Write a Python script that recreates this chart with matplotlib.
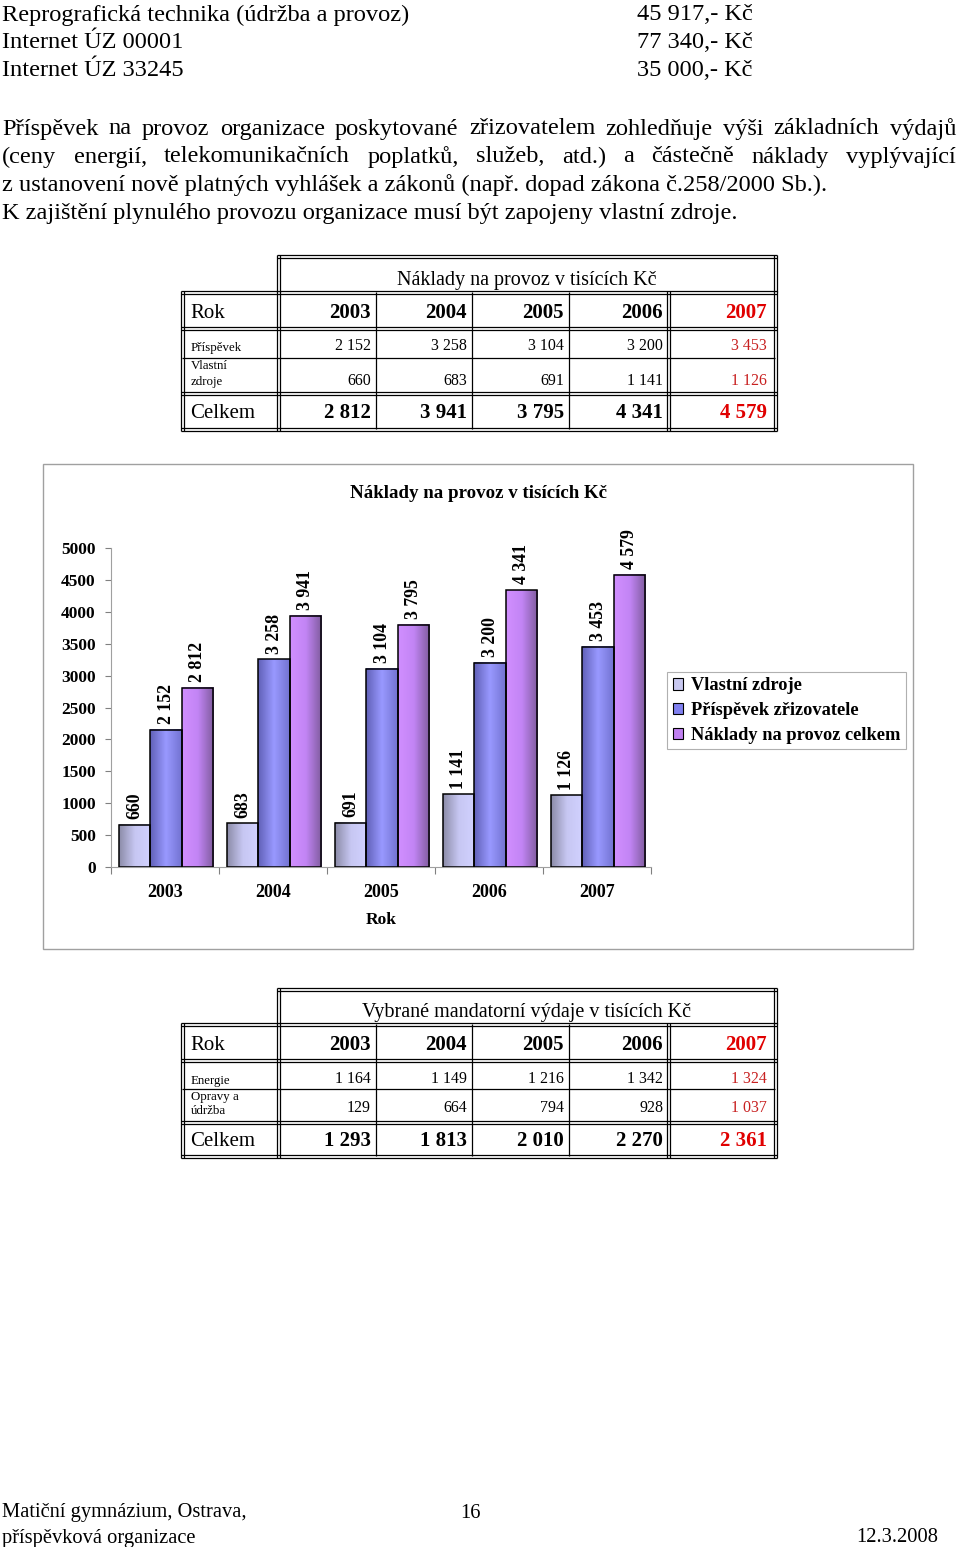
import numpy as np
import matplotlib
matplotlib.use("Agg")
import matplotlib.pyplot as plt
from matplotlib.patches import Patch, Rectangle

plt.rcParams['font.family'] = ['Liberation Serif', 'DejaVu Serif']

# ---------------------------------------------------------------------------
# data
# ---------------------------------------------------------------------------
ITEMS = ["Reprografická technika (údržba a provoz)", "Internet ÚZ 00001", "Internet ÚZ 33245"]
AMOUNTS = ["45 917,- Kč", "77 340,- Kč", "35 000,- Kč"]

PARAGRAPH = [
    "Příspěvek na provoz organizace poskytované zřizovatelem zohledňuje výši základních výdajů",
    "(ceny energií, telekomunikačních poplatků, služeb, atd.) a částečně náklady vyplývající",
    "z ustanovení nově platných vyhlášek a zákonů (např. dopad zákona č.258/2000 Sb.).",
    "K zajištění plynulého provozu organizace musí být zapojeny vlastní zdroje.",
]

YEARS = ["2003", "2004", "2005", "2006", "2007"]
PRISPEVEK = [2152, 3258, 3104, 3200, 3453]
VLASTNI = [660, 683, 691, 1141, 1126]
CELKEM = [2812, 3941, 3795, 4341, 4579]

ENERGIE = [1164, 1149, 1216, 1342, 1324]
OPRAVY = [129, 664, 794, 928, 1037]
MAND_CELKEM = [1293, 1813, 2010, 2270, 2361]

SERIES_NAMES = ["Vlastní zdroje", "Příspěvek zřizovatele", "Náklady na provoz celkem"]

# left / middle / right colours of the bar gradients
GRAD = [
    [(0.55, 0.55, 0.66), (0.78, 0.78, 0.95), (0.82, 0.82, 1.00)],
    [(0.38, 0.38, 0.72), (0.60, 0.60, 1.00), (0.45, 0.45, 0.82)],
    [(0.82, 0.56, 1.00), (0.76, 0.52, 0.96), (0.50, 0.36, 0.62)],
]
LEGEND_COLORS = ["#c8c8f0", "#8080f0", "#c080f0"]
RED = "#e00000"


def fmt(v):
    return f"{v:,}".replace(",", " ")


W, H = 960, 1547
fig = plt.figure(figsize=(W / 100, H / 100), dpi=100)
page = fig.add_axes([0, 0, 1, 1], zorder=0)
page.set_xlim(0, W)
page.set_ylim(H, 0)
page.axis("off")
renderer = fig.canvas.get_renderer()

BODY = 17.6

# ---- top lines -------------------------------------------------------------
for i, (item, amount) in enumerate(zip(ITEMS, AMOUNTS)):
    y = 15 + 28 * i
    page.text(2, y, item, fontsize=BODY, va="center")
    page.text(637, y, amount, fontsize=BODY, va="center")


def justify(line, y, x0, x1, size):
    words = line.split()
    texts = [page.text(0, y, w, fontsize=size, va="center") for w in words]
    widths = [t.get_window_extent(renderer).width for t in texts]
    gap = (x1 - x0 - sum(widths)) / (len(words) - 1)
    x = x0
    for t, w in zip(texts, widths):
        t.set_x(x)
        x += w + gap


for i, line in enumerate(PARAGRAPH):
    y = 129 + 28 * i
    if i < 2:
        justify(line, y, 2, 956, BODY)
    else:
        page.text(2, y, line, fontsize=BODY, va="center")


# ---- tables ----------------------------------------------------------------
XL, XA, X1, X2, X3, XB, XR = 182, 278, 376, 472, 569, 668, 775
COL_RIGHT = [371, 467, 564, 663, 767]


def hline(y, x0, x1, double=False):
    for d in ((-1.5, 1.5) if double else (0,)):
        page.plot([x0, x1], [y + d, y + d], color="black", lw=0.9, solid_capstyle="butt")


def vline(x, y0, y1, double=False):
    for d in ((-1.5, 1.5) if double else (0,)):
        page.plot([x + d, x + d], [y0, y1], color="black", lw=0.9, solid_capstyle="butt")


def draw_table(ys, rows_y, title, labels, row1, row2, totals):
    t0, t1, t2, tm, t3, t4 = ys
    ya, yb, la, lb1, lb2 = rows_y
    # title cell
    hline(t0, XA - 1.5, XR + 1.5, True)
    vline(XA, t0 - 1.5, t1, True)
    vline(XR, t0 - 1.5, t1, True)
    page.text((XA + XR) / 2, (t0 + t1) / 2 + 6, title, fontsize=14.5, ha="center", va="center")
    # grid
    for y in (t1, t2, t3, t4):
        hline(y, XL - 1.5, XR + 1.5, True)
    hline(tm, XL, XR)
    for x in (XL, XA, XB, XR):
        vline(x, t1 - 1.5, t4 + 1.5, True)
    for x in (X1, X2, X3):
        vline(x, t1, t4)
    # header row
    yr = (t1 + t2) / 2 + 3.5
    page.text(190, yr, "Rok", fontsize=15, va="center")
    for j, yv in enumerate(YEARS):
        page.text(COL_RIGHT[j], yr, yv, fontsize=15, fontweight="bold", ha="right",
                  va="center", color=RED if j == 4 else "black")
    # data rows
    page.text(191, la, labels[0][0], fontsize=9.3, va="center")
    page.text(191, lb1, labels[1][0], fontsize=9.3, va="center")
    page.text(191, lb2, labels[1][1], fontsize=9.3, va="center")
    for j in range(5):
        c = "#c82020" if j == 4 else "black"
        page.text(COL_RIGHT[j], ya, fmt(row1[j]), fontsize=11.5, ha="right", va="center", color=c)
        page.text(COL_RIGHT[j], yb, fmt(row2[j]), fontsize=11.5, ha="right", va="center", color=c)
    # totals
    yc = (t3 + t4) / 2 + 2
    page.text(190, yc, "Celkem", fontsize=15, va="center")
    for j in range(5):
        page.text(COL_RIGHT[j], yc, fmt(totals[j]), fontsize=15, fontweight="bold", ha="right",
                  va="center", color=RED if j == 4 else "black")


draw_table((256, 292, 328, 358, 393, 429), (346, 381, 348, 366, 382),
           "Náklady na provoz v tisících Kč",
           [["Příspěvek"], ["Vlastní", "zdroje"]], PRISPEVEK, VLASTNI, CELKEM)
draw_table((989, 1024, 1060, 1089, 1122, 1156), (1079, 1108, 1081, 1097, 1111),
           "Vybrané mandatorní výdaje v tisících Kč",
           [["Energie"], ["Opravy a", "údržba"]], ENERGIE, OPRAVY, MAND_CELKEM)

# ---- chart -----------------------------------------------------------------
page.add_patch(Rectangle((43, 464), 870, 485, fill=False, edgecolor="#a0a0a0", lw=1))
page.text(478, 493, "Náklady na provoz v tisících Kč", fontsize=13.6, fontweight="bold",
          ha="center", va="center")
page.text(381, 920, "Rok", fontsize=12.5, fontweight="bold", ha="center", va="center")

ax = fig.add_axes([111 / W, 1 - 867 / H, 540 / W, 319 / H], zorder=1)
ax.patch.set_alpha(0)
x = np.arange(len(YEARS))
bw = 0.29
series = [VLASTNI, PRISPEVEK, CELKEM]
for k, vals in enumerate(series):
    off = (k - 1) * bw + 0.01
    cmap = matplotlib.colors.LinearSegmentedColormap.from_list(f"g{k}", GRAD[k])
    grad = np.linspace(0, 1, 64).reshape(1, -1)
    for xi, v in zip(x, vals):
        ax.imshow(grad, cmap=cmap, extent=(xi + off - bw / 2, xi + off + bw / 2, 0, v),
                  aspect="auto", interpolation="bilinear", zorder=2)
    ax.bar(x + off, vals, bw, facecolor="none", edgecolor="black", lw=1.1, zorder=3)
    for xi, v in zip(x, vals):
        ax.annotate(fmt(v), (xi + off, v), xytext=(0, 4), textcoords="offset points",
                    rotation=90, ha="center", va="bottom", fontsize=12.8, fontweight="bold")

ax.set_xlim(-0.5, len(YEARS) - 0.5)
ax.set_ylim(0, 5000)
ax.set_yticks(np.arange(0, 5001, 500))
ax.set_xticks(np.arange(-0.5, len(YEARS)), [""] * (len(YEARS) + 1))
ax.set_xticks(x, YEARS, minor=True)
ax.tick_params(axis="x", which="major", length=5, color="#808080", direction="out")
ax.tick_params(axis="x", which="minor", length=0, pad=12, labelsize=13)
ax.tick_params(axis="y", length=4, color="#808080", pad=7, labelsize=12.5)
for lab in ax.get_xticklabels(minor=True) + ax.get_yticklabels():
    lab.set_fontweight("bold")
for s in ("top", "right"):
    ax.spines[s].set_visible(False)
for s in ("left", "bottom"):
    ax.spines[s].set_color("#a0a0a0")
    ax.spines[s].set_linewidth(0.8)

handles = [Patch(facecolor=c, edgecolor="black", lw=0.8) for c in LEGEND_COLORS]
leg = ax.legend(handles, SERIES_NAMES, loc="upper left",
                bbox_to_anchor=(667 / W, 1 - 672 / H), bbox_transform=fig.transFigure,
                borderaxespad=0, fancybox=False, edgecolor="#b0b0b0", framealpha=1,
                prop={"weight": "bold", "size": 13.2}, handlelength=0.55, handleheight=0.55,
                handletextpad=0.45, labelspacing=0.42, borderpad=0.3)
leg.get_frame().set_linewidth(0.8)

# ---- footer ----------------------------------------------------------------
page.text(2, 1513, "Matiční gymnázium, Ostrava,", fontsize=14.8, va="center")
page.text(2, 1538, "příspěvková organizace", fontsize=14.8, va="center")
page.text(470, 1513, "16", fontsize=14.8, ha="center", va="center")
page.text(938, 1538, "12.3.2008", fontsize=14.8, ha="right", va="center")

fig.savefig("out.png", dpi=100)
